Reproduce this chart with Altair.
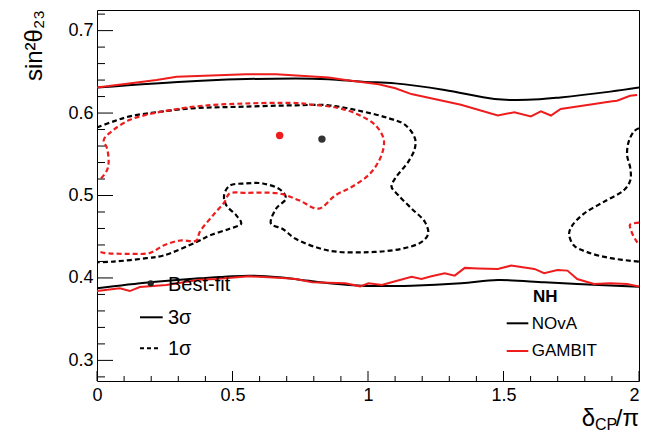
import altair as alt
import pandas as pd

# ---------------- data ----------------
x_major = [0, 0.5, 1, 1.5, 2]
x_minor = [0.1, 0.2, 0.3, 0.4, 0.6, 0.7, 0.8, 0.9, 1.1, 1.2, 1.3, 1.4, 1.6, 1.7, 1.8, 1.9]
y_major = [0.3, 0.4, 0.5, 0.6, 0.7]
y_minor = [0.28, 0.32, 0.34, 0.36, 0.38, 0.42, 0.44, 0.46, 0.48, 0.52, 0.54, 0.56, 0.58,
           0.62, 0.64, 0.66, 0.68, 0.72]

# NOvA 3 sigma (solid black)
nova3_up_x = [0.0, 0.367, 0.734, 0.855, 0.98, 1.10, 1.283, 1.467, 1.589, 1.71, 1.894, 2.0]
nova3_up_y = [0.631, 0.639, 0.642, 0.641, 0.638, 0.636, 0.628, 0.617, 0.616, 0.619, 0.626, 0.631]
nova3_lo_x = [0.0, 0.195, 0.378, 0.561, 0.672, 0.794, 0.977, 1.161, 1.344, 1.479, 1.650, 1.772, 2.0]
nova3_lo_y = [0.3874, 0.3947, 0.3996, 0.4028, 0.4008, 0.3959, 0.3906, 0.3906, 0.3935, 0.3975,
              0.3947, 0.3926, 0.3894]

# GAMBIT 3 sigma (solid red)
gambit3_up_x = [0.0, 0.220, 0.294, 0.550, 0.661, 0.855, 0.917, 1.039, 1.101, 1.160, 1.343, 1.479,
                1.540, 1.601, 1.638, 1.675, 1.711, 1.834, 1.895, 1.919, 1.967, 1.993]
gambit3_up_y = [0.631, 0.640, 0.644, 0.647, 0.647, 0.643, 0.640, 0.635, 0.630, 0.623, 0.610, 0.597,
                0.601, 0.596, 0.602, 0.597, 0.605, 0.611, 0.614, 0.615, 0.621, 0.622]
gambit3_lo_x = [0.0, 0.084, 0.121, 0.158, 0.256, 0.378, 0.439, 0.561, 0.683, 0.733, 0.794, 0.916,
                0.971, 1.002, 1.051, 1.087, 1.161, 1.197, 1.234, 1.283, 1.320, 1.357, 1.406, 1.479,
                1.528, 1.614, 1.650, 1.699, 1.736, 1.772, 1.834, 1.894, 1.956, 2.0]
gambit3_lo_y = [0.3841, 0.3874, 0.3841, 0.3890, 0.3914, 0.3979, 0.3987, 0.4020, 0.4000, 0.3987,
                0.3947, 0.3935, 0.3898, 0.3935, 0.3914, 0.3947, 0.4015, 0.3987, 0.4020, 0.4057,
                0.4028, 0.4122, 0.4116, 0.4109, 0.4150, 0.4109, 0.4057, 0.4097, 0.4089, 0.3987,
                0.3926, 0.3935, 0.3926, 0.3896]

# NOvA 1 sigma (dashed black)
nova1_x = [0.0, 0.061, 0.121, 0.245, 0.367, 0.489, 0.734, 0.855, 0.977, 1.075, 1.137, 1.173, 1.173,
           1.149, 1.100, 1.087, 1.112, 1.161, 1.210, 1.222, 1.197, 1.124, 1.002, 0.855, 0.733,
           0.684, 0.642, 0.661, 0.697, 0.679, 0.612, 0.550, 0.489, 0.469, 0.477, 0.514, 0.532,
           0.489, 0.416, 0.367, 0.245, 0.183, 0.061, 0.0]
nova1_y = [0.5826, 0.5899, 0.5960, 0.6021, 0.6061, 0.6073, 0.6094, 0.6094, 0.6021, 0.5939, 0.5857,
           0.5695, 0.5573, 0.5411, 0.5207, 0.5106, 0.5003, 0.4841, 0.4679, 0.4536, 0.4435, 0.4353,
           0.4313, 0.4332, 0.4475, 0.4597, 0.4658, 0.4841, 0.4963, 0.5064, 0.5146, 0.5146, 0.5118,
           0.5003, 0.4881, 0.4759, 0.4658, 0.4597, 0.4515, 0.4435, 0.4272, 0.4240, 0.4198, 0.4191]
nova1r_x = [2.0, 1.981, 1.962, 1.956, 1.968, 1.968, 1.944, 1.870, 1.797, 1.754, 1.742, 1.760,
            1.809, 1.895, 2.0]
nova1r_y = [0.5817, 0.5776, 0.5654, 0.5491, 0.5329, 0.5186, 0.5064, 0.4923, 0.4780, 0.4637,
            0.4536, 0.4393, 0.4313, 0.4240, 0.4198]

# GAMBIT 1 sigma (dashed red)
gambit1_x = [0.015, 0.037, 0.043, 0.037, 0.025, 0.061, 0.121, 0.183, 0.245, 0.367, 0.489, 0.734,
             0.794, 0.892, 0.965, 1.026, 1.057, 1.057, 1.039, 1.002, 0.941, 0.880, 0.818, 0.745,
             0.672, 0.550, 0.489, 0.471, 0.428, 0.379, 0.367, 0.306, 0.245, 0.196, 0.122, 0.025,
             0.011]
gambit1_y = [0.5207, 0.5308, 0.5411, 0.5573, 0.5674, 0.5796, 0.5918, 0.5979, 0.6021, 0.6081, 0.6109,
             0.6122, 0.6101, 0.6061, 0.5979, 0.5857, 0.5695, 0.5573, 0.5411, 0.5247, 0.5106, 0.5003,
             0.4841, 0.4942, 0.5024, 0.5032, 0.5024, 0.4923, 0.4759, 0.4557, 0.4454, 0.4454, 0.4393,
             0.4304, 0.4292, 0.4304, 0.4316]
gambit1r_x = [2.0, 1.967, 1.971, 1.985, 2.0]
gambit1r_y = [0.4670, 0.4646, 0.4573, 0.4475, 0.4402]

# best fits
bf_nova = (0.830, 0.5684)
bf_gambit = (0.674, 0.5727)

legend_left = ["Best-fit", "3σ", "1σ"]
legend_right_title = "NH"
legend_right = ["NOvA", "GAMBIT"]

# ---------------- chart ----------------
W, H = 542, 371
RED = "#ee1c1c"
FONT = "Liberation Sans"

xsc = alt.Scale(domain=[0, 2], nice=False, zero=False)
ysc = alt.Scale(domain=[0.275, 0.725], nice=False, zero=False)
xaxis = alt.Axis(values=x_major, labelExpr="'' + datum.value", title=None, labelFontSize=18,
                 labelPadding=5, ticks=False, domain=False, grid=False, labelFont=FONT,
                 labelColor="black", labelFlush=False, labelOverlap=False,
                 labelAlign=alt.ExprRef(expr="datum.value == 2 ? 'right' : 'center'"),
                 labelBound=False)
yaxis = alt.Axis(values=y_major, labelExpr="format(datum.value, '.1f')", title=None,
                 labelFontSize=18, labelPadding=4, ticks=False, domain=False, grid=False,
                 labelFont=FONT, labelColor="black", labelFlush=False, labelOverlap=False)


def X():
    return alt.X("x:Q", scale=xsc, axis=xaxis)


def Y():
    return alt.Y("y:Q", scale=ysc, axis=yaxis)


def curve(xv, yv, color, dashed, smooth=True):
    df = pd.DataFrame({"x": xv, "y": yv, "i": list(range(len(xv)))})
    kw = dict(color=color, strokeWidth=2, clip=True)
    if smooth:
        kw["interpolate"] = "catmull-rom"
    if dashed:
        kw["strokeDash"] = [5, 3]
        kw["strokeWidth"] = 2.2
    return alt.Chart(df).mark_line(**kw).encode(x=X(), y=Y(), order="i:Q")


def one():
    return pd.DataFrame({"t": [0]})


def text(txt, x, y, size, align="left", baseline="middle", angle=0, weight="normal"):
    return alt.Chart(pd.DataFrame({"t": [txt]})).mark_text(
        align=align, baseline=baseline, fontSize=size, font=FONT, angle=angle,
        fontWeight=weight, color="black").encode(x=alt.value(x), y=alt.value(y), text="t:N")


layers = []
# ticks (inside the frame, ROOT style)
layers.append(alt.Chart(pd.DataFrame({"x": x_major})).mark_rule(color="black").encode(
    x=X(), y=alt.value(H), y2=alt.value(H - 10)))
layers.append(alt.Chart(pd.DataFrame({"x": x_minor})).mark_rule(color="black").encode(
    x=X(), y=alt.value(H), y2=alt.value(H - 5)))
layers.append(alt.Chart(pd.DataFrame({"y": y_major})).mark_rule(color="black").encode(
    y=Y(), x=alt.value(0), x2=alt.value(16)))
layers.append(alt.Chart(pd.DataFrame({"y": y_minor})).mark_rule(color="black").encode(
    y=Y(), x=alt.value(0), x2=alt.value(8)))

# contours
layers += [
    curve(nova3_up_x, nova3_up_y, "black", False),
    curve(nova3_lo_x, nova3_lo_y, "black", False),
    curve(nova1_x, nova1_y, "black", True),
    curve(nova1r_x, nova1r_y, "black", True),
    curve(gambit3_up_x, gambit3_up_y, RED, False, smooth=False),
    curve(gambit3_lo_x, gambit3_lo_y, RED, False, smooth=False),
    curve(gambit1_x, gambit1_y, RED, True),
    curve(gambit1r_x, gambit1r_y, RED, True),
]

# best-fit points
layers.append(alt.Chart(pd.DataFrame({"x": [bf_nova[0]], "y": [bf_nova[1]]})).mark_circle(
    size=55, color="#333333", opacity=1).encode(x=X(), y=Y()))
layers.append(alt.Chart(pd.DataFrame({"x": [bf_gambit[0]], "y": [bf_gambit[1]]})).mark_circle(
    size=55, color=RED, opacity=1).encode(x=X(), y=Y()))

# left legend
layers.append(alt.Chart(one()).mark_circle(size=40, color="#222222", opacity=1).encode(
    x=alt.value(53.7), y=alt.value(273.3)))
layers.append(text(legend_left[0], 71, 275, 20))
layers.append(alt.Chart(one()).mark_rule(color="black", strokeWidth=2).encode(
    x=alt.value(43), x2=alt.value(65.7), y=alt.value(307.3)))
layers.append(text(legend_left[1], 71, 307.5, 20))
layers.append(alt.Chart(one()).mark_rule(color="black", strokeWidth=2, strokeDash=[4, 3]).encode(
    x=alt.value(43), x2=alt.value(64), y=alt.value(338.3)))
layers.append(text(legend_left[2], 71, 338.5, 20))

# right legend
layers.append(text(legend_right_title, 436, 287, 17, weight="bold"))
layers.append(alt.Chart(one()).mark_rule(color="black", strokeWidth=2).encode(
    x=alt.value(409.7), x2=alt.value(431.3), y=alt.value(313.3)))
layers.append(text(legend_right[0], 434.7, 313.5, 17))
layers.append(alt.Chart(one()).mark_rule(color=RED, strokeWidth=2).encode(
    x=alt.value(409.7), x2=alt.value(431.3), y=alt.value(341)))
layers.append(text(legend_right[1], 434.7, 341, 17))

# axis titles
layers.append(text("sin²θ₂₃", -55.3, 0, 24, align="right", baseline="alphabetic", angle=270))
layers.append(text("δ", 498, 416, 24, align="right", baseline="alphabetic"))
layers.append(text("CP", 498, 420, 16, align="left", baseline="alphabetic"))
layers.append(text("/π", 542, 416, 24, align="right", baseline="alphabetic"))

chart = alt.layer(*layers).properties(
    width=W, height=H,
    padding={"left": 89, "top": 2, "right": 1, "bottom": 51},
    autosize=alt.AutoSizeParams(type="none"),
    background="white",
).configure_view(stroke="black", strokeWidth=1)

chart.save("out.html", embed_options={"renderer": "svg", "actions": False})
